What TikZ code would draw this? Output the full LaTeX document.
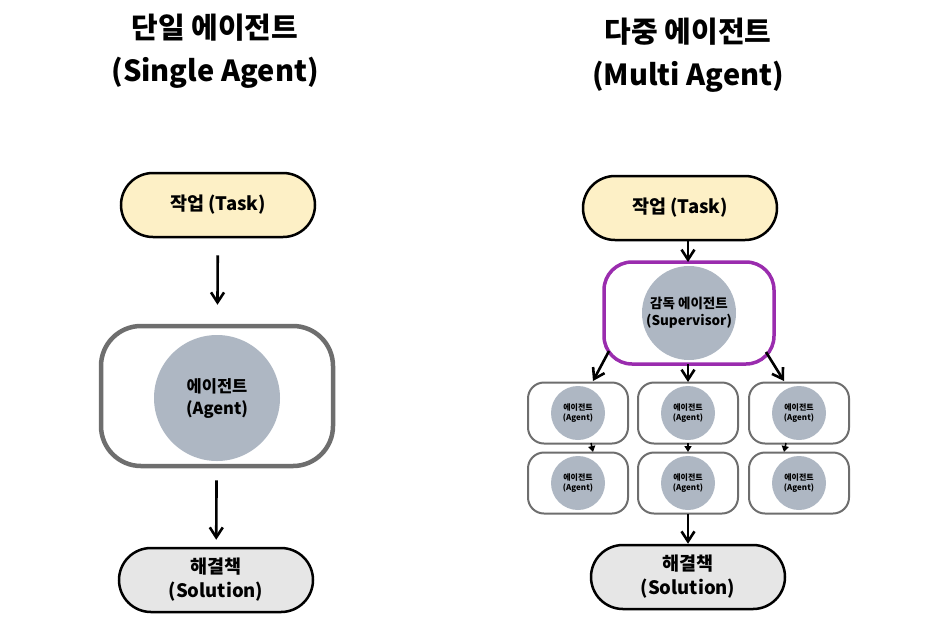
\documentclass[tikz,border=0pt]{standalone}
\usepackage{fontspec}
\setmainfont{Noto Sans CJK KR}
\usetikzlibrary{arrows.meta,positioning}
\definecolor{taskfill}{HTML}{FDF0C6}
\definecolor{solfill}{HTML}{E6E6E6}
\definecolor{dotfill}{HTML}{AEB7C3}
\definecolor{framegray}{HTML}{6E6E6E}
\definecolor{supviolet}{HTML}{9A2CAE}
\tikzset{
  pill/.style={draw=black,line width=2.5pt,rounded corners=32pt,minimum width=194pt,
    minimum height=64pt,align=center,font=\bfseries\fontsize{18.5}{24}\selectfont},
  frame/.style={draw=framegray,fill=white,rounded corners=#1},
  dot/.style={circle,fill=dotfill,inner sep=0pt,align=center},
  title/.style={align=center,font=\bfseries\fontsize{29}{43}\selectfont},
  arr/.style={draw=black,line width=2.6pt,-{Straight Barb[length=10pt,width=13pt,line width=2.6pt]}},
  tinyarr/.style={draw=black,line width=1.5pt,-{Triangle[length=6pt,width=7pt]}}
}
\begin{document}
\begin{tikzpicture}[x=1pt,y=-1pt]
\useasboundingbox (0,0) rectangle (940,625);
% single agent
\node[title] (stitle) at (215,51) {단일 에이전트\\(Single Agent)};
\node[pill,fill=taskfill] (stask) at (218,205) {작업 (Task)};
\node[frame=40pt,line width=4.5pt,minimum width=232pt,minimum height=140pt] (sframe) at (217,396) {};
\node[dot,minimum size=126pt,font=\bfseries\fontsize{16.5}{22}\selectfont] (sagent) at (217,398) {에이전트\\(Agent)};
\node[pill,fill=solfill] (ssol) at (216,580) {해결책\\(Solution)};
\draw[arr,shorten <=17pt,shorten >=19pt] (stask) -- (sframe);
\draw[arr,shorten <=12pt,shorten >=7pt] (sframe) -- (ssol);
% multi agent
\node[title] (mtitle) at (688,55) {다중 에이전트\\(Multi Agent)};
\node[pill,fill=taskfill] (mtask) at (680,208) {작업 (Task)};
\node[frame=28pt,draw=supviolet,line width=3.5pt,minimum width=170pt,minimum height=102pt] (sup) at (689,313) {};
\node[dot,minimum size=94pt,font=\bfseries\fontsize{13.5}{17}\selectfont] (supdot) at (689,313) {감독 에이전트\\(Supervisor)};
\foreach \c/\x in {1/578,2/688,3/799}{
  \foreach \r/\y in {1/413,2/483}{
    \node[frame=16pt,line width=2pt,minimum width=100pt,minimum height=61pt] (box\c\r) at (\x,\y) {};
    \node[dot,minimum size=54pt,font=\bfseries\fontsize{8}{10}\selectfont] (ag\c\r) at (\x,\y) {에이전트\\(Agent)};
  }
}
\node[pill,fill=solfill] (msol) at (688,577) {해결책\\(Solution)};
% connectors
\coordinate (tdrop) at (688,240);
\coordinate (supin) at (688,262);
\coordinate (supl) at (609,351);
\coordinate (supm) at (688,364);
\coordinate (supr) at (766,352);
\coordinate (inl) at (593,381);
\coordinate (inm) at (688,382);
\coordinate (inr) at (784,381);
\draw[arr] (tdrop) -- (supin);
\draw[arr] (supl) -- (inl);
\draw[arr] (supm) -- (inm);
\draw[arr] (supr) -- (inr);
\foreach \c/\a/\b in {1/591/593,2/688/688,3/786/784}{
  \coordinate (out\c) at (\a,443);
  \coordinate (in\c) at (\b,452);
  \draw[tinyarr] (out\c) -- (in\c);
}
\coordinate (mdrop) at (688,514);
\draw[arr] (mdrop) -- (msol);
\end{tikzpicture}
\end{document}
